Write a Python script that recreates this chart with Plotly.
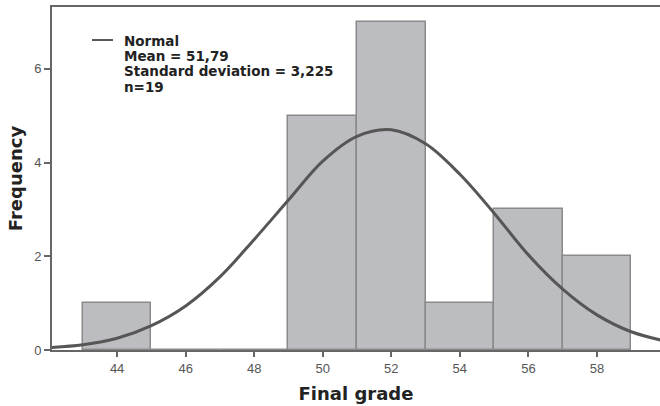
import plotly.graph_objects as go

# Histogram bins (Final grade), width 2
bin_centers = [44, 46, 48, 50, 52, 54, 56, 58]
frequencies = [1, 0, 0, 5, 7, 1, 3, 2]

# Fitted normal curve
curve_x = [42, 43, 44, 45, 46, 47, 48, 49, 50, 51, 52, 53, 54, 55, 56, 57, 58, 59, 60]
curve_y = [0.05, 0.11, 0.25, 0.52, 0.94, 1.56, 2.36, 3.2, 4.03, 4.56, 4.7, 4.4, 3.75, 2.92, 2.03, 1.3, 0.75, 0.39, 0.19]

x_ticks = [44, 46, 48, 50, 52, 54, 56, 58]
y_ticks = [0, 2, 4, 6]

legend_lines = ["Normal", "Mean = 51,79", "Standard deviation = 3,225", "n=19"]

TITLE_FONT = "DejaVu Sans, Verdana, sans-serif"
TICK_FONT = "Liberation Sans, Arial, sans-serif"

fig = go.Figure()
fig.add_trace(go.Bar(
    x=bin_centers, y=frequencies, width=2,
    marker=dict(color="#bcbdc1", line=dict(color="#8a8a8c", width=1.5)),
    showlegend=False, hoverinfo="x+y",
))
fig.add_trace(go.Scatter(
    x=curve_x, y=curve_y, mode="lines", line_shape="spline",
    line=dict(color="#565656", width=3),
    name="Normal", showlegend=False,
))

# legend-like key in the upper left
fig.add_shape(type="line", xref="paper", yref="paper",
              x0=0.0658, x1=0.1003, y0=0.9037, y1=0.9037,
              line=dict(color="#565656", width=2))
line_y = [0.9023, 0.8571, 0.8120, 0.7668]
for txt, yy in zip(legend_lines, line_y):
    fig.add_annotation(text="<b>%s</b>" % txt, xref="paper", yref="paper",
                       x=0.1151, y=yy, xanchor="left", yanchor="middle",
                       showarrow=False,
                       font=dict(family=TITLE_FONT, size=13.5, color="#222222"))

fig.update_layout(
    width=660, height=406,
    margin=dict(l=52, r=0, t=7, b=56),
    paper_bgcolor="white", plot_bgcolor="white",
    font=dict(family=TICK_FONT),
    bargap=0,
    showlegend=False,
    xaxis=dict(
        range=[42.1, 59.84], tickvals=x_ticks, automargin=False,
        showgrid=False, zeroline=False,
        showline=True, linecolor="#666666", linewidth=2, mirror=True,
        ticks="outside", ticklen=5, tickcolor="#666666", tickwidth=1.5,
        tickfont=dict(size=13, color="#555555"),
        title=dict(text="<b>Final grade</b>",
                   font=dict(family=TITLE_FONT, size=18, color="#222222"),
                   standoff=13),
    ),
    yaxis=dict(
        range=[0, 7.32], tickvals=y_ticks, automargin=False,
        showgrid=False, zeroline=False,
        showline=True, linecolor="#666666", linewidth=2,
        ticks="outside", ticklen=6, tickcolor="#666666", tickwidth=1.5,
        tickfont=dict(size=13, color="#555555"),
        title=dict(text="<b>Frequency</b>",
                   font=dict(family=TITLE_FONT, size=18, color="#222222"),
                   standoff=7),
    ),
)

fig.write_html("out.html", config={"displayModeBar": False},
               post_script="document.body.style.margin='0';document.body.style.overflow='hidden';")
